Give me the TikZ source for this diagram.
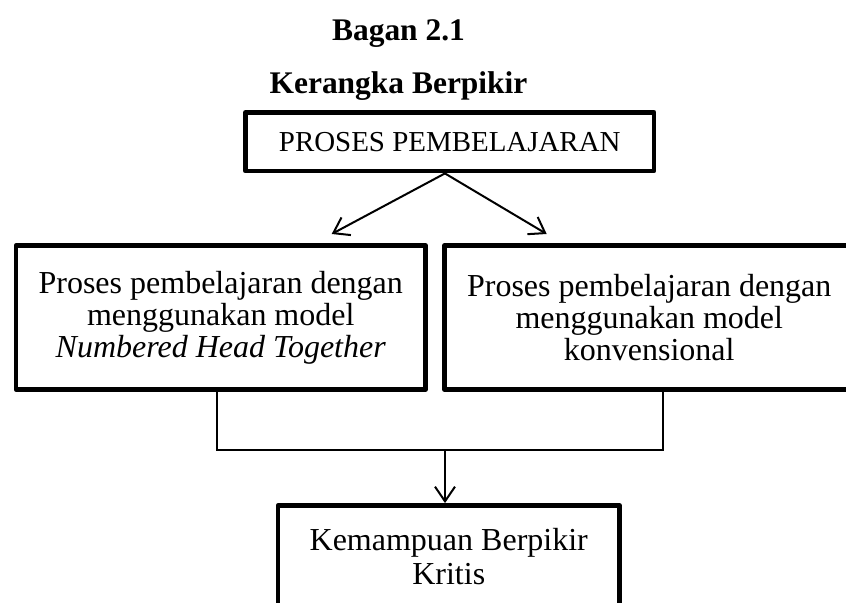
\documentclass[tikz,border=0pt]{standalone}
\usepackage{fontspec}
\setmainfont{Liberation Serif}
\usepackage{tikz}
\usetikzlibrary{arrows.meta}
\tikzstyle{kotak}=[draw, line width=3.6pt, line join=round, align=center, inner sep=0pt]
\tikzstyle{judul}=[font=\fontsize{23.6}{28}\selectfont\bfseries, anchor=base]
\tikzstyle{panah}=[line width=1.5pt, ->]
\tikzstyle{garis}=[line width=1pt]
\tikzset{>={Straight Barb[length=11pt, width=15pt]}}

\begin{document}
\begin{tikzpicture}[x=0.75pt, y=-0.75pt]
\useasboundingbox (0,0) rectangle (846,603);
\clip (0,0) rectangle (846,603);
% the titles
\node[judul] (bagan) at (398.5,40.5) {Bagan 2.1};
\node[judul] (kerangka) at (398.5,93.5) {Kerangka Berpikir};
% the boxes
\node[kotak, minimum width=306.4pt, minimum height=43.9pt, font=\fontsize{21.7}{26}\selectfont] (proses) at (449.75,141.75) {PROSES PEMBELAJARAN};
\node[kotak, minimum width=307.1pt, minimum height=108pt, font=\fontsize{24}{24}\selectfont] (nht) at (220.75,317.5) {Proses pembelajaran dengan\\ menggunakan model\\ \textit{Numbered Head Together}};
\node[kotak, minimum width=307.1pt, minimum height=108pt, font=\fontsize{24}{24}\selectfont] (konv) at (649.25,317.5) {Proses pembelajaran dengan\\ menggunakan model\\ konvensional};
\node[kotak, minimum width=256.1pt, minimum height=76.5pt, font=\fontsize{24}{26}\selectfont] (kbk) at (448.75,556.5) {Kemampuan Berpikir\\ Kritis};
% the arrows out of the top box
\coordinate (ujungkiri) at (331.7,234);
\coordinate (ujungkanan) at (546.7,234);
\draw[panah] ([xshift=-3.6pt]proses.south) -- (ujungkiri);
\draw[panah] ([xshift=-3.6pt]proses.south) -- (ujungkanan);
% the joining lines
\coordinate (kiri) at (217,450);
\coordinate (kanan) at (663,450);
\coordinate (tengah) at (445,450);
\draw[garis] (nht.south -| kiri) -- (kiri) -- (kanan) -- (konv.south -| kanan);
\draw[panah] (tengah) -- (tengah |- kbk.north);
\end{tikzpicture}
\end{document}
